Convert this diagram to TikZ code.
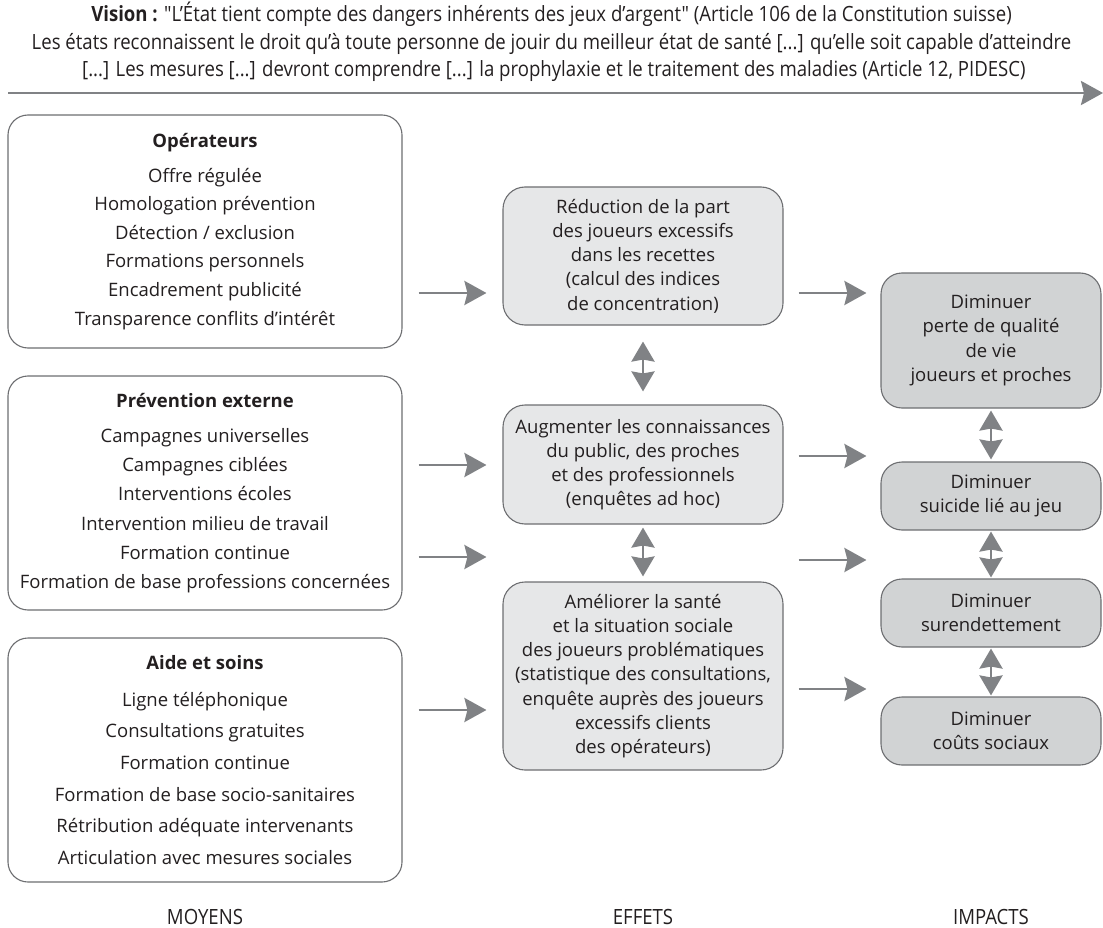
\documentclass[tikz,border=0pt]{standalone}
\usepackage{fontspec}
\setmainfont{Open Sans}
\newfontfamily\condfont[FakeStretch=0.885]{Open Sans}
\usetikzlibrary{arrows.meta}
\definecolor{trait}{HTML}{6D6E71}
\definecolor{fleche}{HTML}{808285}
\definecolor{effet}{HTML}{E6E7E8}
\definecolor{impact}{HTML}{D1D3D4}
\definecolor{encre}{HTML}{231F20}
\tikzstyle{every node}=[text=encre,align=center,inner sep=0pt]
\tikzstyle{moyen}=[draw=trait,line width=1.1pt,rounded corners=20pt,fill=white,minimum width=394pt]
\tikzstyle{effetbox}=[draw=trait,line width=1.1pt,rounded corners=22pt,fill=effet,minimum width=280pt,font=\fontsize{18.5}{24.2}\selectfont]
\tikzstyle{impactbox}=[draw=trait,line width=1.1pt,rounded corners=21pt,fill=impact,minimum width=220pt,font=\fontsize{18.5}{24.3}\selectfont]
\tikzstyle{fl}=[draw=fleche,line width=2.8pt,-{Stealth[length=22pt,width=24pt,inset=3pt]}]
\tikzstyle{dfl}=[draw=fleche,line width=2.8pt,{Stealth[length=20pt,width=23pt,inset=2pt]}-{Stealth[length=20pt,width=23pt,inset=2pt]}]
\tikzstyle{colonne}=[font=\condfont\fontsize{21}{24}\selectfont]

\begin{document}
\begin{tikzpicture}[x=1pt,y=-1pt]
\useasboundingbox (0,0) rectangle (1103,928);

% vision
\node[font=\condfont\fontsize{21}{27.5}\selectfont] (vision) at (551.5,42)
  {\textbf{Vision :} "L’État tient compte des dangers inhérents des jeux d’argent" (Article 106 de la Constitution suisse)\\
   Les états reconnaissent le droit qu’à toute personne de jouir du meilleur état de santé [...] qu’elle soit capable d’atteindre\\{}
   [...] Les mesures [...] devront comprendre [...] la prophylaxie et le traitement des maladies (Article 12, PIDESC)};
\coordinate (debut) at (8,93);
\coordinate (fin) at (1103,93);
\path (debut) edge[fl] (fin);

% moyens
\node[moyen,minimum height=233pt,font=\fontsize{18.5}{28.6}\selectfont] (op) at (205,231.5)
  {\textbf{Opérateurs}\\[6pt]
   Offre régulée\\ Homologation prévention\\ Détection / exclusion\\
   Formations personnels\\ Encadrement publicité\\ Transparence conflits d’intérêt};
\node[moyen,minimum height=234pt,font=\fontsize{18.5}{29.2}\selectfont] (prev) at (205,493)
  {\textbf{Prévention externe}\\[6pt]
   Campagnes universelles\\ Campagnes ciblées\\ Interventions écoles\\
   Intervention milieu de travail\\ Formation continue\\ Formation de base professions concernées};
\node[moyen,minimum height=244pt,font=\fontsize{18.5}{31.6}\selectfont] (aide) at (205,760)
  {\textbf{Aide et soins}\\[5pt]
   Ligne téléphonique\\ Consultations gratuites\\ Formation continue\\
   Formation de base socio-sanitaires\\ Rétribution adéquate intervenants\\ Articulation avec mesures sociales};

% effets
\node[effetbox,minimum height=138pt] (reduc) at (643,256)
  {Réduction de la part\\des joueurs excessifs\\dans les recettes\\(calcul des indices\\de concentration)};
\node[effetbox,minimum height=119pt] (conn) at (643,464.5)
  {Augmenter les connaissances\\du public, des proches\\et des professionnels\\(enquêtes ad hoc)};
\node[effetbox,minimum height=188pt] (sante) at (643,676)
  {Améliorer la santé\\et la situation sociale\\des joueurs problématiques\\(statistique des consultations,\\enquête auprès des joueurs\\excessifs clients\\des opérateurs)};

% impacts
\node[impactbox,minimum height=135pt] (qual) at (991,340.5)
  {Diminuer\\perte de qualité\\de vie\\joueurs et proches};
\node[impactbox,minimum height=68pt] (suic) at (991,496) {Diminuer\\suicide lié au jeu};
\node[impactbox,minimum height=68pt] (dette) at (991,613) {Diminuer\\surendettement};
\node[impactbox,minimum height=68pt] (couts) at (991,731) {Diminuer\\coûts sociaux};

% moyens -> effets
\path (op.east |- 0,293) edge[fl,shorten <=16pt,shorten >=16pt] (reduc.west |- 0,293);
\path (prev.east |- 0,465) edge[fl,shorten <=16pt,shorten >=16pt] (conn.west |- 0,465);
\path (prev.east |- 0,557) edge[fl,shorten <=16pt,shorten >=16pt] (sante.west |- 0,557);
\path (aide.east |- 0,710) edge[fl,shorten <=16pt,shorten >=16pt] (sante.west |- 0,710);

% effets -> impacts
\path (reduc.east |- 0,293) edge[fl,shorten <=15pt,shorten >=14pt] (qual.west |- 0,293);
\path (conn.east |- 0,456) edge[fl,shorten <=15pt,shorten >=14pt] (suic.west |- 0,456);
\path (sante.east |- 0,560) edge[fl,shorten <=15pt,shorten >=14pt] (dette.west |- 0,560);
\path (sante.east |- 0,689) edge[fl,shorten <=15pt,shorten >=14pt] (couts.west |- 0,689);

% liens
\path (reduc.south) edge[dfl,shorten <=16pt,shorten >=13pt] (conn.north);
\path (conn.south) edge[dfl,shorten <=3pt,shorten >=5pt] (sante.north);
\path (qual.south) edge[dfl,shorten <=2pt,shorten >=2pt] (suic.north);
\path (suic.south) edge[dfl,shorten <=1pt,shorten >=1pt] (dette.north);
\path (dette.south) edge[dfl,shorten <=1pt,shorten >=1pt] (couts.north);

% colonnes
\node[colonne] (moyens) at (op |- 0,917) {MOYENS};
\node[colonne] (effets) at (reduc |- 0,917) {EFFETS};
\node[colonne] (impacts) at (qual |- 0,917) {IMPACTS};
\end{tikzpicture}
\end{document}
